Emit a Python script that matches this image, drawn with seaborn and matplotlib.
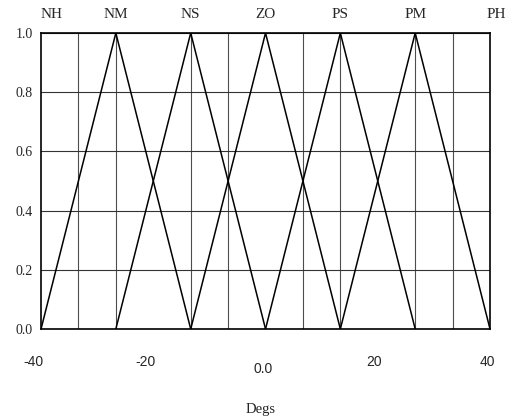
import matplotlib
matplotlib.use("Agg")
import matplotlib.pyplot as plt
import matplotlib.transforms as mtransforms
import seaborn as sns
import pandas as pd

# fuzzy set labels and their centres (Degs)
set_labels = ["NH", "NM", "NS", "ZO", "PS", "PM", "PH"]
set_centres = [-40, -26.67, -13.33, 0, 13.33, 26.67, 40]

# drawn triangles: left foot, peak, right foot
tri_names = ["NM", "NS", "ZO", "PS", "PM"]
tri_left = [-40, -26.67, -13.33, 0, 13.33]
tri_peak = [-26.67, -13.33, 0, 13.33, 26.67]
tri_right = [-13.33, 0, 13.33, 26.67, 40]

x_ticks = [-40, -20, 0, 20, 40]
x_ticklabels = ["-40", "-20", "0.0", "20", "40"]
y_ticks = [0.0, 0.2, 0.4, 0.6, 0.8, 1.0]
y_ticklabels = ["0.0", "0.2", "0.4", "0.6", "0.8", "1.0"]
grid_x = [-40, -33.33, -26.67, -20, -13.33, -6.67, 0, 6.67, 13.33, 20, 26.67, 33.33, 40]

rows = []
for n, l, p, r in zip(tri_names, tri_left, tri_peak, tri_right):
    rows += [(n, l, 0.0), (n, p, 1.0), (n, r, 0.0)]
df = pd.DataFrame(rows, columns=["set", "x", "y"])

sns.set_style("white")
plt.rcParams["font.family"] = ["Liberation Serif", "DejaVu Serif"]

fig = plt.figure(figsize=(5.09, 4.16), dpi=100)
ax = fig.add_axes([0.0806, 0.2091, 0.8821, 0.7116])

sns.lineplot(data=df, x="x", y="y", hue="set", units="set", estimator=None,
             sort=False, palette=["black"] * len(tri_names), legend=False,
             linewidth=1.1, ax=ax)

ax.set_xlim(-40, 40)
ax.set_ylim(0, 1)

# grid
ax.set_xticks(grid_x, minor=True)
ax.set_xticks(x_ticks)
ax.set_xticklabels(x_ticklabels, family="Liberation Sans", fontsize=10)
ax.set_yticks(y_ticks)
ax.set_yticklabels(y_ticklabels, fontsize=10)
ax.grid(False)
ax.grid(True, which="minor", axis="x", color="0.3", linewidth=0.8)
ax.grid(True, which="major", axis="y", color="0.2", linewidth=0.8)
ax.tick_params(axis="x", which="both", length=0, pad=19)
ax.tick_params(axis="y", length=0, pad=6)

# scanned labels sit a little off their ticks
x_shift = {"-40": (-8, 0), "-20": (-8, 0), "0.0": (-2, -7), "20": (-4, 0), "40": (-3, 0)}
for lab in ax.get_xticklabels():
    dx, dy = x_shift[lab.get_text()]
    lab.set_transform(lab.get_transform() +
                      mtransforms.ScaledTranslation(dx / 100, dy / 100, fig.dpi_scale_trans))

for s in ax.spines.values():
    s.set_color("black")
    s.set_linewidth(1.2)

trans = mtransforms.blended_transform_factory(ax.transData, ax.transAxes)
for lab, c in zip(set_labels, set_centres):
    dx = 0
    if lab == "NH":
        dx = 1.8
    elif lab == "PH":
        dx = 1.2
    ax.text(c + dx, 1.04, lab, transform=trans, ha="center", va="bottom", fontsize=11)

ax.set_xlabel("Degs", fontsize=10.5, labelpad=19)
ax.xaxis.label.set_x(0.49)
ax.set_ylabel("")

fig.savefig("out.png", dpi=100)
